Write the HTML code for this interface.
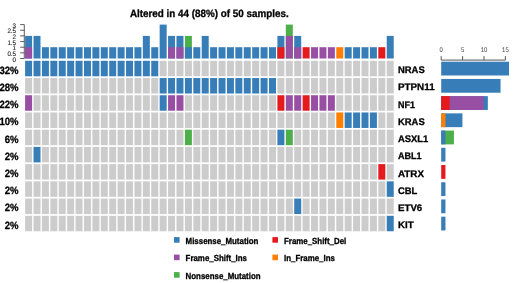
<!DOCTYPE html>
<html><head><meta charset="utf-8"><style>
html,body{margin:0;padding:0;background:#fff;width:520px;height:283px;overflow:hidden}
svg{display:block;font-family:"Liberation Sans",Arial,sans-serif;text-rendering:geometricPrecision}
</style></head><body>
<svg width="520" height="283" viewBox="0 0 520 283">
<rect width="520" height="283" fill="#fff"/><g>
<rect x="25.1" y="60.8" width="7" height="15.5" fill="#377EB8"/>
<rect x="33.51" y="60.8" width="7" height="15.5" fill="#377EB8"/>
<rect x="41.92" y="60.8" width="7" height="15.5" fill="#377EB8"/>
<rect x="50.33" y="60.8" width="7" height="15.5" fill="#377EB8"/>
<rect x="58.74" y="60.8" width="7" height="15.5" fill="#377EB8"/>
<rect x="67.15" y="60.8" width="7" height="15.5" fill="#377EB8"/>
<rect x="75.56" y="60.8" width="7" height="15.5" fill="#377EB8"/>
<rect x="83.97" y="60.8" width="7" height="15.5" fill="#377EB8"/>
<rect x="92.38" y="60.8" width="7" height="15.5" fill="#377EB8"/>
<rect x="100.79" y="60.8" width="7" height="15.5" fill="#377EB8"/>
<rect x="109.2" y="60.8" width="7" height="15.5" fill="#377EB8"/>
<rect x="117.61" y="60.8" width="7" height="15.5" fill="#377EB8"/>
<rect x="126.02" y="60.8" width="7" height="15.5" fill="#377EB8"/>
<rect x="134.43" y="60.8" width="7" height="15.5" fill="#377EB8"/>
<rect x="142.84" y="60.8" width="7" height="15.5" fill="#377EB8"/>
<rect x="151.25" y="60.8" width="7" height="15.5" fill="#377EB8"/>
<rect x="159.66" y="60.8" width="7" height="15.5" fill="#CCCCCC"/>
<rect x="168.07" y="60.8" width="7" height="15.5" fill="#CCCCCC"/>
<rect x="176.48" y="60.8" width="7" height="15.5" fill="#CCCCCC"/>
<rect x="184.89" y="60.8" width="7" height="15.5" fill="#CCCCCC"/>
<rect x="193.3" y="60.8" width="7" height="15.5" fill="#CCCCCC"/>
<rect x="201.71" y="60.8" width="7" height="15.5" fill="#CCCCCC"/>
<rect x="210.12" y="60.8" width="7" height="15.5" fill="#CCCCCC"/>
<rect x="218.53" y="60.8" width="7" height="15.5" fill="#CCCCCC"/>
<rect x="226.94" y="60.8" width="7" height="15.5" fill="#CCCCCC"/>
<rect x="235.35" y="60.8" width="7" height="15.5" fill="#CCCCCC"/>
<rect x="243.76" y="60.8" width="7" height="15.5" fill="#CCCCCC"/>
<rect x="252.17" y="60.8" width="7" height="15.5" fill="#CCCCCC"/>
<rect x="260.58" y="60.8" width="7" height="15.5" fill="#CCCCCC"/>
<rect x="268.99" y="60.8" width="7" height="15.5" fill="#CCCCCC"/>
<rect x="277.4" y="60.8" width="7" height="15.5" fill="#CCCCCC"/>
<rect x="285.81" y="60.8" width="7" height="15.5" fill="#CCCCCC"/>
<rect x="294.22" y="60.8" width="7" height="15.5" fill="#CCCCCC"/>
<rect x="302.63" y="60.8" width="7" height="15.5" fill="#CCCCCC"/>
<rect x="311.04" y="60.8" width="7" height="15.5" fill="#CCCCCC"/>
<rect x="319.45" y="60.8" width="7" height="15.5" fill="#CCCCCC"/>
<rect x="327.86" y="60.8" width="7" height="15.5" fill="#CCCCCC"/>
<rect x="336.27" y="60.8" width="7" height="15.5" fill="#CCCCCC"/>
<rect x="344.68" y="60.8" width="7" height="15.5" fill="#CCCCCC"/>
<rect x="353.09" y="60.8" width="7" height="15.5" fill="#CCCCCC"/>
<rect x="361.5" y="60.8" width="7" height="15.5" fill="#CCCCCC"/>
<rect x="369.91" y="60.8" width="7" height="15.5" fill="#CCCCCC"/>
<rect x="378.32" y="60.8" width="7" height="15.5" fill="#CCCCCC"/>
<rect x="386.73" y="60.8" width="7" height="15.5" fill="#CCCCCC"/>
<rect x="25.1" y="78.02" width="7" height="15.5" fill="#CCCCCC"/>
<rect x="33.51" y="78.02" width="7" height="15.5" fill="#CCCCCC"/>
<rect x="41.92" y="78.02" width="7" height="15.5" fill="#CCCCCC"/>
<rect x="50.33" y="78.02" width="7" height="15.5" fill="#CCCCCC"/>
<rect x="58.74" y="78.02" width="7" height="15.5" fill="#CCCCCC"/>
<rect x="67.15" y="78.02" width="7" height="15.5" fill="#CCCCCC"/>
<rect x="75.56" y="78.02" width="7" height="15.5" fill="#CCCCCC"/>
<rect x="83.97" y="78.02" width="7" height="15.5" fill="#CCCCCC"/>
<rect x="92.38" y="78.02" width="7" height="15.5" fill="#CCCCCC"/>
<rect x="100.79" y="78.02" width="7" height="15.5" fill="#CCCCCC"/>
<rect x="109.2" y="78.02" width="7" height="15.5" fill="#CCCCCC"/>
<rect x="117.61" y="78.02" width="7" height="15.5" fill="#CCCCCC"/>
<rect x="126.02" y="78.02" width="7" height="15.5" fill="#CCCCCC"/>
<rect x="134.43" y="78.02" width="7" height="15.5" fill="#CCCCCC"/>
<rect x="142.84" y="78.02" width="7" height="15.5" fill="#CCCCCC"/>
<rect x="151.25" y="78.02" width="7" height="15.5" fill="#CCCCCC"/>
<rect x="159.66" y="78.02" width="7" height="15.5" fill="#377EB8"/>
<rect x="168.07" y="78.02" width="7" height="15.5" fill="#377EB8"/>
<rect x="176.48" y="78.02" width="7" height="15.5" fill="#377EB8"/>
<rect x="184.89" y="78.02" width="7" height="15.5" fill="#377EB8"/>
<rect x="193.3" y="78.02" width="7" height="15.5" fill="#377EB8"/>
<rect x="201.71" y="78.02" width="7" height="15.5" fill="#377EB8"/>
<rect x="210.12" y="78.02" width="7" height="15.5" fill="#377EB8"/>
<rect x="218.53" y="78.02" width="7" height="15.5" fill="#377EB8"/>
<rect x="226.94" y="78.02" width="7" height="15.5" fill="#377EB8"/>
<rect x="235.35" y="78.02" width="7" height="15.5" fill="#377EB8"/>
<rect x="243.76" y="78.02" width="7" height="15.5" fill="#377EB8"/>
<rect x="252.17" y="78.02" width="7" height="15.5" fill="#377EB8"/>
<rect x="260.58" y="78.02" width="7" height="15.5" fill="#377EB8"/>
<rect x="268.99" y="78.02" width="7" height="15.5" fill="#377EB8"/>
<rect x="277.4" y="78.02" width="7" height="15.5" fill="#CCCCCC"/>
<rect x="285.81" y="78.02" width="7" height="15.5" fill="#CCCCCC"/>
<rect x="294.22" y="78.02" width="7" height="15.5" fill="#CCCCCC"/>
<rect x="302.63" y="78.02" width="7" height="15.5" fill="#CCCCCC"/>
<rect x="311.04" y="78.02" width="7" height="15.5" fill="#CCCCCC"/>
<rect x="319.45" y="78.02" width="7" height="15.5" fill="#CCCCCC"/>
<rect x="327.86" y="78.02" width="7" height="15.5" fill="#CCCCCC"/>
<rect x="336.27" y="78.02" width="7" height="15.5" fill="#CCCCCC"/>
<rect x="344.68" y="78.02" width="7" height="15.5" fill="#CCCCCC"/>
<rect x="353.09" y="78.02" width="7" height="15.5" fill="#CCCCCC"/>
<rect x="361.5" y="78.02" width="7" height="15.5" fill="#CCCCCC"/>
<rect x="369.91" y="78.02" width="7" height="15.5" fill="#CCCCCC"/>
<rect x="378.32" y="78.02" width="7" height="15.5" fill="#CCCCCC"/>
<rect x="386.73" y="78.02" width="7" height="15.5" fill="#CCCCCC"/>
<rect x="25.1" y="95.24" width="7" height="15.5" fill="#984EA3"/>
<rect x="33.51" y="95.24" width="7" height="15.5" fill="#CCCCCC"/>
<rect x="41.92" y="95.24" width="7" height="15.5" fill="#CCCCCC"/>
<rect x="50.33" y="95.24" width="7" height="15.5" fill="#CCCCCC"/>
<rect x="58.74" y="95.24" width="7" height="15.5" fill="#CCCCCC"/>
<rect x="67.15" y="95.24" width="7" height="15.5" fill="#CCCCCC"/>
<rect x="75.56" y="95.24" width="7" height="15.5" fill="#CCCCCC"/>
<rect x="83.97" y="95.24" width="7" height="15.5" fill="#CCCCCC"/>
<rect x="92.38" y="95.24" width="7" height="15.5" fill="#CCCCCC"/>
<rect x="100.79" y="95.24" width="7" height="15.5" fill="#CCCCCC"/>
<rect x="109.2" y="95.24" width="7" height="15.5" fill="#CCCCCC"/>
<rect x="117.61" y="95.24" width="7" height="15.5" fill="#CCCCCC"/>
<rect x="126.02" y="95.24" width="7" height="15.5" fill="#CCCCCC"/>
<rect x="134.43" y="95.24" width="7" height="15.5" fill="#CCCCCC"/>
<rect x="142.84" y="95.24" width="7" height="15.5" fill="#CCCCCC"/>
<rect x="151.25" y="95.24" width="7" height="15.5" fill="#CCCCCC"/>
<rect x="159.66" y="95.24" width="7" height="15.5" fill="#377EB8"/>
<rect x="168.07" y="95.24" width="7" height="15.5" fill="#984EA3"/>
<rect x="176.48" y="95.24" width="7" height="15.5" fill="#984EA3"/>
<rect x="184.89" y="95.24" width="7" height="15.5" fill="#CCCCCC"/>
<rect x="193.3" y="95.24" width="7" height="15.5" fill="#CCCCCC"/>
<rect x="201.71" y="95.24" width="7" height="15.5" fill="#CCCCCC"/>
<rect x="210.12" y="95.24" width="7" height="15.5" fill="#CCCCCC"/>
<rect x="218.53" y="95.24" width="7" height="15.5" fill="#CCCCCC"/>
<rect x="226.94" y="95.24" width="7" height="15.5" fill="#CCCCCC"/>
<rect x="235.35" y="95.24" width="7" height="15.5" fill="#CCCCCC"/>
<rect x="243.76" y="95.24" width="7" height="15.5" fill="#CCCCCC"/>
<rect x="252.17" y="95.24" width="7" height="15.5" fill="#CCCCCC"/>
<rect x="260.58" y="95.24" width="7" height="15.5" fill="#CCCCCC"/>
<rect x="268.99" y="95.24" width="7" height="15.5" fill="#CCCCCC"/>
<rect x="277.4" y="95.24" width="7" height="15.5" fill="#E41A1C"/>
<rect x="285.81" y="95.24" width="7" height="15.5" fill="#984EA3"/>
<rect x="294.22" y="95.24" width="7" height="15.5" fill="#984EA3"/>
<rect x="302.63" y="95.24" width="7" height="15.5" fill="#E41A1C"/>
<rect x="311.04" y="95.24" width="7" height="15.5" fill="#984EA3"/>
<rect x="319.45" y="95.24" width="7" height="15.5" fill="#984EA3"/>
<rect x="327.86" y="95.24" width="7" height="15.5" fill="#984EA3"/>
<rect x="336.27" y="95.24" width="7" height="15.5" fill="#CCCCCC"/>
<rect x="344.68" y="95.24" width="7" height="15.5" fill="#CCCCCC"/>
<rect x="353.09" y="95.24" width="7" height="15.5" fill="#CCCCCC"/>
<rect x="361.5" y="95.24" width="7" height="15.5" fill="#CCCCCC"/>
<rect x="369.91" y="95.24" width="7" height="15.5" fill="#CCCCCC"/>
<rect x="378.32" y="95.24" width="7" height="15.5" fill="#CCCCCC"/>
<rect x="386.73" y="95.24" width="7" height="15.5" fill="#CCCCCC"/>
<rect x="25.1" y="112.46" width="7" height="15.5" fill="#CCCCCC"/>
<rect x="33.51" y="112.46" width="7" height="15.5" fill="#CCCCCC"/>
<rect x="41.92" y="112.46" width="7" height="15.5" fill="#CCCCCC"/>
<rect x="50.33" y="112.46" width="7" height="15.5" fill="#CCCCCC"/>
<rect x="58.74" y="112.46" width="7" height="15.5" fill="#CCCCCC"/>
<rect x="67.15" y="112.46" width="7" height="15.5" fill="#CCCCCC"/>
<rect x="75.56" y="112.46" width="7" height="15.5" fill="#CCCCCC"/>
<rect x="83.97" y="112.46" width="7" height="15.5" fill="#CCCCCC"/>
<rect x="92.38" y="112.46" width="7" height="15.5" fill="#CCCCCC"/>
<rect x="100.79" y="112.46" width="7" height="15.5" fill="#CCCCCC"/>
<rect x="109.2" y="112.46" width="7" height="15.5" fill="#CCCCCC"/>
<rect x="117.61" y="112.46" width="7" height="15.5" fill="#CCCCCC"/>
<rect x="126.02" y="112.46" width="7" height="15.5" fill="#CCCCCC"/>
<rect x="134.43" y="112.46" width="7" height="15.5" fill="#CCCCCC"/>
<rect x="142.84" y="112.46" width="7" height="15.5" fill="#CCCCCC"/>
<rect x="151.25" y="112.46" width="7" height="15.5" fill="#CCCCCC"/>
<rect x="159.66" y="112.46" width="7" height="15.5" fill="#CCCCCC"/>
<rect x="168.07" y="112.46" width="7" height="15.5" fill="#CCCCCC"/>
<rect x="176.48" y="112.46" width="7" height="15.5" fill="#CCCCCC"/>
<rect x="184.89" y="112.46" width="7" height="15.5" fill="#CCCCCC"/>
<rect x="193.3" y="112.46" width="7" height="15.5" fill="#CCCCCC"/>
<rect x="201.71" y="112.46" width="7" height="15.5" fill="#CCCCCC"/>
<rect x="210.12" y="112.46" width="7" height="15.5" fill="#CCCCCC"/>
<rect x="218.53" y="112.46" width="7" height="15.5" fill="#CCCCCC"/>
<rect x="226.94" y="112.46" width="7" height="15.5" fill="#CCCCCC"/>
<rect x="235.35" y="112.46" width="7" height="15.5" fill="#CCCCCC"/>
<rect x="243.76" y="112.46" width="7" height="15.5" fill="#CCCCCC"/>
<rect x="252.17" y="112.46" width="7" height="15.5" fill="#CCCCCC"/>
<rect x="260.58" y="112.46" width="7" height="15.5" fill="#CCCCCC"/>
<rect x="268.99" y="112.46" width="7" height="15.5" fill="#CCCCCC"/>
<rect x="277.4" y="112.46" width="7" height="15.5" fill="#CCCCCC"/>
<rect x="285.81" y="112.46" width="7" height="15.5" fill="#CCCCCC"/>
<rect x="294.22" y="112.46" width="7" height="15.5" fill="#CCCCCC"/>
<rect x="302.63" y="112.46" width="7" height="15.5" fill="#CCCCCC"/>
<rect x="311.04" y="112.46" width="7" height="15.5" fill="#CCCCCC"/>
<rect x="319.45" y="112.46" width="7" height="15.5" fill="#CCCCCC"/>
<rect x="327.86" y="112.46" width="7" height="15.5" fill="#CCCCCC"/>
<rect x="336.27" y="112.46" width="7" height="15.5" fill="#FF7F00"/>
<rect x="344.68" y="112.46" width="7" height="15.5" fill="#377EB8"/>
<rect x="353.09" y="112.46" width="7" height="15.5" fill="#377EB8"/>
<rect x="361.5" y="112.46" width="7" height="15.5" fill="#377EB8"/>
<rect x="369.91" y="112.46" width="7" height="15.5" fill="#377EB8"/>
<rect x="378.32" y="112.46" width="7" height="15.5" fill="#CCCCCC"/>
<rect x="386.73" y="112.46" width="7" height="15.5" fill="#CCCCCC"/>
<rect x="25.1" y="129.68" width="7" height="15.5" fill="#CCCCCC"/>
<rect x="33.51" y="129.68" width="7" height="15.5" fill="#CCCCCC"/>
<rect x="41.92" y="129.68" width="7" height="15.5" fill="#CCCCCC"/>
<rect x="50.33" y="129.68" width="7" height="15.5" fill="#CCCCCC"/>
<rect x="58.74" y="129.68" width="7" height="15.5" fill="#CCCCCC"/>
<rect x="67.15" y="129.68" width="7" height="15.5" fill="#CCCCCC"/>
<rect x="75.56" y="129.68" width="7" height="15.5" fill="#CCCCCC"/>
<rect x="83.97" y="129.68" width="7" height="15.5" fill="#CCCCCC"/>
<rect x="92.38" y="129.68" width="7" height="15.5" fill="#CCCCCC"/>
<rect x="100.79" y="129.68" width="7" height="15.5" fill="#CCCCCC"/>
<rect x="109.2" y="129.68" width="7" height="15.5" fill="#CCCCCC"/>
<rect x="117.61" y="129.68" width="7" height="15.5" fill="#CCCCCC"/>
<rect x="126.02" y="129.68" width="7" height="15.5" fill="#CCCCCC"/>
<rect x="134.43" y="129.68" width="7" height="15.5" fill="#CCCCCC"/>
<rect x="142.84" y="129.68" width="7" height="15.5" fill="#CCCCCC"/>
<rect x="151.25" y="129.68" width="7" height="15.5" fill="#CCCCCC"/>
<rect x="159.66" y="129.68" width="7" height="15.5" fill="#CCCCCC"/>
<rect x="168.07" y="129.68" width="7" height="15.5" fill="#CCCCCC"/>
<rect x="176.48" y="129.68" width="7" height="15.5" fill="#CCCCCC"/>
<rect x="184.89" y="129.68" width="7" height="15.5" fill="#4DAF4A"/>
<rect x="193.3" y="129.68" width="7" height="15.5" fill="#CCCCCC"/>
<rect x="201.71" y="129.68" width="7" height="15.5" fill="#CCCCCC"/>
<rect x="210.12" y="129.68" width="7" height="15.5" fill="#CCCCCC"/>
<rect x="218.53" y="129.68" width="7" height="15.5" fill="#CCCCCC"/>
<rect x="226.94" y="129.68" width="7" height="15.5" fill="#CCCCCC"/>
<rect x="235.35" y="129.68" width="7" height="15.5" fill="#CCCCCC"/>
<rect x="243.76" y="129.68" width="7" height="15.5" fill="#CCCCCC"/>
<rect x="252.17" y="129.68" width="7" height="15.5" fill="#CCCCCC"/>
<rect x="260.58" y="129.68" width="7" height="15.5" fill="#CCCCCC"/>
<rect x="268.99" y="129.68" width="7" height="15.5" fill="#CCCCCC"/>
<rect x="277.4" y="129.68" width="7" height="15.5" fill="#377EB8"/>
<rect x="285.81" y="129.68" width="7" height="15.5" fill="#4DAF4A"/>
<rect x="294.22" y="129.68" width="7" height="15.5" fill="#CCCCCC"/>
<rect x="302.63" y="129.68" width="7" height="15.5" fill="#CCCCCC"/>
<rect x="311.04" y="129.68" width="7" height="15.5" fill="#CCCCCC"/>
<rect x="319.45" y="129.68" width="7" height="15.5" fill="#CCCCCC"/>
<rect x="327.86" y="129.68" width="7" height="15.5" fill="#CCCCCC"/>
<rect x="336.27" y="129.68" width="7" height="15.5" fill="#CCCCCC"/>
<rect x="344.68" y="129.68" width="7" height="15.5" fill="#CCCCCC"/>
<rect x="353.09" y="129.68" width="7" height="15.5" fill="#CCCCCC"/>
<rect x="361.5" y="129.68" width="7" height="15.5" fill="#CCCCCC"/>
<rect x="369.91" y="129.68" width="7" height="15.5" fill="#CCCCCC"/>
<rect x="378.32" y="129.68" width="7" height="15.5" fill="#CCCCCC"/>
<rect x="386.73" y="129.68" width="7" height="15.5" fill="#CCCCCC"/>
<rect x="25.1" y="146.9" width="7" height="15.5" fill="#CCCCCC"/>
<rect x="33.51" y="146.9" width="7" height="15.5" fill="#377EB8"/>
<rect x="41.92" y="146.9" width="7" height="15.5" fill="#CCCCCC"/>
<rect x="50.33" y="146.9" width="7" height="15.5" fill="#CCCCCC"/>
<rect x="58.74" y="146.9" width="7" height="15.5" fill="#CCCCCC"/>
<rect x="67.15" y="146.9" width="7" height="15.5" fill="#CCCCCC"/>
<rect x="75.56" y="146.9" width="7" height="15.5" fill="#CCCCCC"/>
<rect x="83.97" y="146.9" width="7" height="15.5" fill="#CCCCCC"/>
<rect x="92.38" y="146.9" width="7" height="15.5" fill="#CCCCCC"/>
<rect x="100.79" y="146.9" width="7" height="15.5" fill="#CCCCCC"/>
<rect x="109.2" y="146.9" width="7" height="15.5" fill="#CCCCCC"/>
<rect x="117.61" y="146.9" width="7" height="15.5" fill="#CCCCCC"/>
<rect x="126.02" y="146.9" width="7" height="15.5" fill="#CCCCCC"/>
<rect x="134.43" y="146.9" width="7" height="15.5" fill="#CCCCCC"/>
<rect x="142.84" y="146.9" width="7" height="15.5" fill="#CCCCCC"/>
<rect x="151.25" y="146.9" width="7" height="15.5" fill="#CCCCCC"/>
<rect x="159.66" y="146.9" width="7" height="15.5" fill="#CCCCCC"/>
<rect x="168.07" y="146.9" width="7" height="15.5" fill="#CCCCCC"/>
<rect x="176.48" y="146.9" width="7" height="15.5" fill="#CCCCCC"/>
<rect x="184.89" y="146.9" width="7" height="15.5" fill="#CCCCCC"/>
<rect x="193.3" y="146.9" width="7" height="15.5" fill="#CCCCCC"/>
<rect x="201.71" y="146.9" width="7" height="15.5" fill="#CCCCCC"/>
<rect x="210.12" y="146.9" width="7" height="15.5" fill="#CCCCCC"/>
<rect x="218.53" y="146.9" width="7" height="15.5" fill="#CCCCCC"/>
<rect x="226.94" y="146.9" width="7" height="15.5" fill="#CCCCCC"/>
<rect x="235.35" y="146.9" width="7" height="15.5" fill="#CCCCCC"/>
<rect x="243.76" y="146.9" width="7" height="15.5" fill="#CCCCCC"/>
<rect x="252.17" y="146.9" width="7" height="15.5" fill="#CCCCCC"/>
<rect x="260.58" y="146.9" width="7" height="15.5" fill="#CCCCCC"/>
<rect x="268.99" y="146.9" width="7" height="15.5" fill="#CCCCCC"/>
<rect x="277.4" y="146.9" width="7" height="15.5" fill="#CCCCCC"/>
<rect x="285.81" y="146.9" width="7" height="15.5" fill="#CCCCCC"/>
<rect x="294.22" y="146.9" width="7" height="15.5" fill="#CCCCCC"/>
<rect x="302.63" y="146.9" width="7" height="15.5" fill="#CCCCCC"/>
<rect x="311.04" y="146.9" width="7" height="15.5" fill="#CCCCCC"/>
<rect x="319.45" y="146.9" width="7" height="15.5" fill="#CCCCCC"/>
<rect x="327.86" y="146.9" width="7" height="15.5" fill="#CCCCCC"/>
<rect x="336.27" y="146.9" width="7" height="15.5" fill="#CCCCCC"/>
<rect x="344.68" y="146.9" width="7" height="15.5" fill="#CCCCCC"/>
<rect x="353.09" y="146.9" width="7" height="15.5" fill="#CCCCCC"/>
<rect x="361.5" y="146.9" width="7" height="15.5" fill="#CCCCCC"/>
<rect x="369.91" y="146.9" width="7" height="15.5" fill="#CCCCCC"/>
<rect x="378.32" y="146.9" width="7" height="15.5" fill="#CCCCCC"/>
<rect x="386.73" y="146.9" width="7" height="15.5" fill="#CCCCCC"/>
<rect x="25.1" y="164.12" width="7" height="15.5" fill="#CCCCCC"/>
<rect x="33.51" y="164.12" width="7" height="15.5" fill="#CCCCCC"/>
<rect x="41.92" y="164.12" width="7" height="15.5" fill="#CCCCCC"/>
<rect x="50.33" y="164.12" width="7" height="15.5" fill="#CCCCCC"/>
<rect x="58.74" y="164.12" width="7" height="15.5" fill="#CCCCCC"/>
<rect x="67.15" y="164.12" width="7" height="15.5" fill="#CCCCCC"/>
<rect x="75.56" y="164.12" width="7" height="15.5" fill="#CCCCCC"/>
<rect x="83.97" y="164.12" width="7" height="15.5" fill="#CCCCCC"/>
<rect x="92.38" y="164.12" width="7" height="15.5" fill="#CCCCCC"/>
<rect x="100.79" y="164.12" width="7" height="15.5" fill="#CCCCCC"/>
<rect x="109.2" y="164.12" width="7" height="15.5" fill="#CCCCCC"/>
<rect x="117.61" y="164.12" width="7" height="15.5" fill="#CCCCCC"/>
<rect x="126.02" y="164.12" width="7" height="15.5" fill="#CCCCCC"/>
<rect x="134.43" y="164.12" width="7" height="15.5" fill="#CCCCCC"/>
<rect x="142.84" y="164.12" width="7" height="15.5" fill="#CCCCCC"/>
<rect x="151.25" y="164.12" width="7" height="15.5" fill="#CCCCCC"/>
<rect x="159.66" y="164.12" width="7" height="15.5" fill="#CCCCCC"/>
<rect x="168.07" y="164.12" width="7" height="15.5" fill="#CCCCCC"/>
<rect x="176.48" y="164.12" width="7" height="15.5" fill="#CCCCCC"/>
<rect x="184.89" y="164.12" width="7" height="15.5" fill="#CCCCCC"/>
<rect x="193.3" y="164.12" width="7" height="15.5" fill="#CCCCCC"/>
<rect x="201.71" y="164.12" width="7" height="15.5" fill="#CCCCCC"/>
<rect x="210.12" y="164.12" width="7" height="15.5" fill="#CCCCCC"/>
<rect x="218.53" y="164.12" width="7" height="15.5" fill="#CCCCCC"/>
<rect x="226.94" y="164.12" width="7" height="15.5" fill="#CCCCCC"/>
<rect x="235.35" y="164.12" width="7" height="15.5" fill="#CCCCCC"/>
<rect x="243.76" y="164.12" width="7" height="15.5" fill="#CCCCCC"/>
<rect x="252.17" y="164.12" width="7" height="15.5" fill="#CCCCCC"/>
<rect x="260.58" y="164.12" width="7" height="15.5" fill="#CCCCCC"/>
<rect x="268.99" y="164.12" width="7" height="15.5" fill="#CCCCCC"/>
<rect x="277.4" y="164.12" width="7" height="15.5" fill="#CCCCCC"/>
<rect x="285.81" y="164.12" width="7" height="15.5" fill="#CCCCCC"/>
<rect x="294.22" y="164.12" width="7" height="15.5" fill="#CCCCCC"/>
<rect x="302.63" y="164.12" width="7" height="15.5" fill="#CCCCCC"/>
<rect x="311.04" y="164.12" width="7" height="15.5" fill="#CCCCCC"/>
<rect x="319.45" y="164.12" width="7" height="15.5" fill="#CCCCCC"/>
<rect x="327.86" y="164.12" width="7" height="15.5" fill="#CCCCCC"/>
<rect x="336.27" y="164.12" width="7" height="15.5" fill="#CCCCCC"/>
<rect x="344.68" y="164.12" width="7" height="15.5" fill="#CCCCCC"/>
<rect x="353.09" y="164.12" width="7" height="15.5" fill="#CCCCCC"/>
<rect x="361.5" y="164.12" width="7" height="15.5" fill="#CCCCCC"/>
<rect x="369.91" y="164.12" width="7" height="15.5" fill="#CCCCCC"/>
<rect x="378.32" y="164.12" width="7" height="15.5" fill="#E41A1C"/>
<rect x="386.73" y="164.12" width="7" height="15.5" fill="#CCCCCC"/>
<rect x="25.1" y="181.34" width="7" height="15.5" fill="#CCCCCC"/>
<rect x="33.51" y="181.34" width="7" height="15.5" fill="#CCCCCC"/>
<rect x="41.92" y="181.34" width="7" height="15.5" fill="#CCCCCC"/>
<rect x="50.33" y="181.34" width="7" height="15.5" fill="#CCCCCC"/>
<rect x="58.74" y="181.34" width="7" height="15.5" fill="#CCCCCC"/>
<rect x="67.15" y="181.34" width="7" height="15.5" fill="#CCCCCC"/>
<rect x="75.56" y="181.34" width="7" height="15.5" fill="#CCCCCC"/>
<rect x="83.97" y="181.34" width="7" height="15.5" fill="#CCCCCC"/>
<rect x="92.38" y="181.34" width="7" height="15.5" fill="#CCCCCC"/>
<rect x="100.79" y="181.34" width="7" height="15.5" fill="#CCCCCC"/>
<rect x="109.2" y="181.34" width="7" height="15.5" fill="#CCCCCC"/>
<rect x="117.61" y="181.34" width="7" height="15.5" fill="#CCCCCC"/>
<rect x="126.02" y="181.34" width="7" height="15.5" fill="#CCCCCC"/>
<rect x="134.43" y="181.34" width="7" height="15.5" fill="#CCCCCC"/>
<rect x="142.84" y="181.34" width="7" height="15.5" fill="#CCCCCC"/>
<rect x="151.25" y="181.34" width="7" height="15.5" fill="#CCCCCC"/>
<rect x="159.66" y="181.34" width="7" height="15.5" fill="#CCCCCC"/>
<rect x="168.07" y="181.34" width="7" height="15.5" fill="#CCCCCC"/>
<rect x="176.48" y="181.34" width="7" height="15.5" fill="#CCCCCC"/>
<rect x="184.89" y="181.34" width="7" height="15.5" fill="#CCCCCC"/>
<rect x="193.3" y="181.34" width="7" height="15.5" fill="#CCCCCC"/>
<rect x="201.71" y="181.34" width="7" height="15.5" fill="#CCCCCC"/>
<rect x="210.12" y="181.34" width="7" height="15.5" fill="#CCCCCC"/>
<rect x="218.53" y="181.34" width="7" height="15.5" fill="#CCCCCC"/>
<rect x="226.94" y="181.34" width="7" height="15.5" fill="#CCCCCC"/>
<rect x="235.35" y="181.34" width="7" height="15.5" fill="#CCCCCC"/>
<rect x="243.76" y="181.34" width="7" height="15.5" fill="#CCCCCC"/>
<rect x="252.17" y="181.34" width="7" height="15.5" fill="#CCCCCC"/>
<rect x="260.58" y="181.34" width="7" height="15.5" fill="#CCCCCC"/>
<rect x="268.99" y="181.34" width="7" height="15.5" fill="#CCCCCC"/>
<rect x="277.4" y="181.34" width="7" height="15.5" fill="#CCCCCC"/>
<rect x="285.81" y="181.34" width="7" height="15.5" fill="#CCCCCC"/>
<rect x="294.22" y="181.34" width="7" height="15.5" fill="#CCCCCC"/>
<rect x="302.63" y="181.34" width="7" height="15.5" fill="#CCCCCC"/>
<rect x="311.04" y="181.34" width="7" height="15.5" fill="#CCCCCC"/>
<rect x="319.45" y="181.34" width="7" height="15.5" fill="#CCCCCC"/>
<rect x="327.86" y="181.34" width="7" height="15.5" fill="#CCCCCC"/>
<rect x="336.27" y="181.34" width="7" height="15.5" fill="#CCCCCC"/>
<rect x="344.68" y="181.34" width="7" height="15.5" fill="#CCCCCC"/>
<rect x="353.09" y="181.34" width="7" height="15.5" fill="#CCCCCC"/>
<rect x="361.5" y="181.34" width="7" height="15.5" fill="#CCCCCC"/>
<rect x="369.91" y="181.34" width="7" height="15.5" fill="#CCCCCC"/>
<rect x="378.32" y="181.34" width="7" height="15.5" fill="#CCCCCC"/>
<rect x="386.73" y="181.34" width="7" height="15.5" fill="#377EB8"/>
<rect x="25.1" y="198.56" width="7" height="15.5" fill="#CCCCCC"/>
<rect x="33.51" y="198.56" width="7" height="15.5" fill="#CCCCCC"/>
<rect x="41.92" y="198.56" width="7" height="15.5" fill="#CCCCCC"/>
<rect x="50.33" y="198.56" width="7" height="15.5" fill="#CCCCCC"/>
<rect x="58.74" y="198.56" width="7" height="15.5" fill="#CCCCCC"/>
<rect x="67.15" y="198.56" width="7" height="15.5" fill="#CCCCCC"/>
<rect x="75.56" y="198.56" width="7" height="15.5" fill="#CCCCCC"/>
<rect x="83.97" y="198.56" width="7" height="15.5" fill="#CCCCCC"/>
<rect x="92.38" y="198.56" width="7" height="15.5" fill="#CCCCCC"/>
<rect x="100.79" y="198.56" width="7" height="15.5" fill="#CCCCCC"/>
<rect x="109.2" y="198.56" width="7" height="15.5" fill="#CCCCCC"/>
<rect x="117.61" y="198.56" width="7" height="15.5" fill="#CCCCCC"/>
<rect x="126.02" y="198.56" width="7" height="15.5" fill="#CCCCCC"/>
<rect x="134.43" y="198.56" width="7" height="15.5" fill="#CCCCCC"/>
<rect x="142.84" y="198.56" width="7" height="15.5" fill="#CCCCCC"/>
<rect x="151.25" y="198.56" width="7" height="15.5" fill="#CCCCCC"/>
<rect x="159.66" y="198.56" width="7" height="15.5" fill="#CCCCCC"/>
<rect x="168.07" y="198.56" width="7" height="15.5" fill="#CCCCCC"/>
<rect x="176.48" y="198.56" width="7" height="15.5" fill="#CCCCCC"/>
<rect x="184.89" y="198.56" width="7" height="15.5" fill="#CCCCCC"/>
<rect x="193.3" y="198.56" width="7" height="15.5" fill="#CCCCCC"/>
<rect x="201.71" y="198.56" width="7" height="15.5" fill="#CCCCCC"/>
<rect x="210.12" y="198.56" width="7" height="15.5" fill="#CCCCCC"/>
<rect x="218.53" y="198.56" width="7" height="15.5" fill="#CCCCCC"/>
<rect x="226.94" y="198.56" width="7" height="15.5" fill="#CCCCCC"/>
<rect x="235.35" y="198.56" width="7" height="15.5" fill="#CCCCCC"/>
<rect x="243.76" y="198.56" width="7" height="15.5" fill="#CCCCCC"/>
<rect x="252.17" y="198.56" width="7" height="15.5" fill="#CCCCCC"/>
<rect x="260.58" y="198.56" width="7" height="15.5" fill="#CCCCCC"/>
<rect x="268.99" y="198.56" width="7" height="15.5" fill="#CCCCCC"/>
<rect x="277.4" y="198.56" width="7" height="15.5" fill="#CCCCCC"/>
<rect x="285.81" y="198.56" width="7" height="15.5" fill="#CCCCCC"/>
<rect x="294.22" y="198.56" width="7" height="15.5" fill="#377EB8"/>
<rect x="302.63" y="198.56" width="7" height="15.5" fill="#CCCCCC"/>
<rect x="311.04" y="198.56" width="7" height="15.5" fill="#CCCCCC"/>
<rect x="319.45" y="198.56" width="7" height="15.5" fill="#CCCCCC"/>
<rect x="327.86" y="198.56" width="7" height="15.5" fill="#CCCCCC"/>
<rect x="336.27" y="198.56" width="7" height="15.5" fill="#CCCCCC"/>
<rect x="344.68" y="198.56" width="7" height="15.5" fill="#CCCCCC"/>
<rect x="353.09" y="198.56" width="7" height="15.5" fill="#CCCCCC"/>
<rect x="361.5" y="198.56" width="7" height="15.5" fill="#CCCCCC"/>
<rect x="369.91" y="198.56" width="7" height="15.5" fill="#CCCCCC"/>
<rect x="378.32" y="198.56" width="7" height="15.5" fill="#CCCCCC"/>
<rect x="386.73" y="198.56" width="7" height="15.5" fill="#CCCCCC"/>
<rect x="25.1" y="215.78" width="7" height="15.5" fill="#CCCCCC"/>
<rect x="33.51" y="215.78" width="7" height="15.5" fill="#CCCCCC"/>
<rect x="41.92" y="215.78" width="7" height="15.5" fill="#CCCCCC"/>
<rect x="50.33" y="215.78" width="7" height="15.5" fill="#CCCCCC"/>
<rect x="58.74" y="215.78" width="7" height="15.5" fill="#CCCCCC"/>
<rect x="67.15" y="215.78" width="7" height="15.5" fill="#CCCCCC"/>
<rect x="75.56" y="215.78" width="7" height="15.5" fill="#CCCCCC"/>
<rect x="83.97" y="215.78" width="7" height="15.5" fill="#CCCCCC"/>
<rect x="92.38" y="215.78" width="7" height="15.5" fill="#CCCCCC"/>
<rect x="100.79" y="215.78" width="7" height="15.5" fill="#CCCCCC"/>
<rect x="109.2" y="215.78" width="7" height="15.5" fill="#CCCCCC"/>
<rect x="117.61" y="215.78" width="7" height="15.5" fill="#CCCCCC"/>
<rect x="126.02" y="215.78" width="7" height="15.5" fill="#CCCCCC"/>
<rect x="134.43" y="215.78" width="7" height="15.5" fill="#CCCCCC"/>
<rect x="142.84" y="215.78" width="7" height="15.5" fill="#CCCCCC"/>
<rect x="151.25" y="215.78" width="7" height="15.5" fill="#CCCCCC"/>
<rect x="159.66" y="215.78" width="7" height="15.5" fill="#CCCCCC"/>
<rect x="168.07" y="215.78" width="7" height="15.5" fill="#CCCCCC"/>
<rect x="176.48" y="215.78" width="7" height="15.5" fill="#CCCCCC"/>
<rect x="184.89" y="215.78" width="7" height="15.5" fill="#CCCCCC"/>
<rect x="193.3" y="215.78" width="7" height="15.5" fill="#CCCCCC"/>
<rect x="201.71" y="215.78" width="7" height="15.5" fill="#CCCCCC"/>
<rect x="210.12" y="215.78" width="7" height="15.5" fill="#CCCCCC"/>
<rect x="218.53" y="215.78" width="7" height="15.5" fill="#CCCCCC"/>
<rect x="226.94" y="215.78" width="7" height="15.5" fill="#CCCCCC"/>
<rect x="235.35" y="215.78" width="7" height="15.5" fill="#CCCCCC"/>
<rect x="243.76" y="215.78" width="7" height="15.5" fill="#CCCCCC"/>
<rect x="252.17" y="215.78" width="7" height="15.5" fill="#CCCCCC"/>
<rect x="260.58" y="215.78" width="7" height="15.5" fill="#CCCCCC"/>
<rect x="268.99" y="215.78" width="7" height="15.5" fill="#CCCCCC"/>
<rect x="277.4" y="215.78" width="7" height="15.5" fill="#CCCCCC"/>
<rect x="285.81" y="215.78" width="7" height="15.5" fill="#CCCCCC"/>
<rect x="294.22" y="215.78" width="7" height="15.5" fill="#CCCCCC"/>
<rect x="302.63" y="215.78" width="7" height="15.5" fill="#CCCCCC"/>
<rect x="311.04" y="215.78" width="7" height="15.5" fill="#CCCCCC"/>
<rect x="319.45" y="215.78" width="7" height="15.5" fill="#CCCCCC"/>
<rect x="327.86" y="215.78" width="7" height="15.5" fill="#CCCCCC"/>
<rect x="336.27" y="215.78" width="7" height="15.5" fill="#CCCCCC"/>
<rect x="344.68" y="215.78" width="7" height="15.5" fill="#CCCCCC"/>
<rect x="353.09" y="215.78" width="7" height="15.5" fill="#CCCCCC"/>
<rect x="361.5" y="215.78" width="7" height="15.5" fill="#CCCCCC"/>
<rect x="369.91" y="215.78" width="7" height="15.5" fill="#CCCCCC"/>
<rect x="378.32" y="215.78" width="7" height="15.5" fill="#CCCCCC"/>
<rect x="386.73" y="215.78" width="7" height="15.5" fill="#377EB8"/>
<rect x="25.1" y="35.9" width="7" height="22.6" fill="#377EB8"/>
<rect x="25.1" y="47.2" width="7" height="11.3" fill="#984EA3"/>
<rect x="33.51" y="35.9" width="7" height="22.6" fill="#377EB8"/>
<rect x="41.92" y="47.2" width="7" height="11.3" fill="#377EB8"/>
<rect x="50.33" y="47.2" width="7" height="11.3" fill="#377EB8"/>
<rect x="58.74" y="47.2" width="7" height="11.3" fill="#377EB8"/>
<rect x="67.15" y="47.2" width="7" height="11.3" fill="#377EB8"/>
<rect x="75.56" y="47.2" width="7" height="11.3" fill="#377EB8"/>
<rect x="83.97" y="47.2" width="7" height="11.3" fill="#377EB8"/>
<rect x="92.38" y="47.2" width="7" height="11.3" fill="#377EB8"/>
<rect x="100.79" y="47.2" width="7" height="11.3" fill="#377EB8"/>
<rect x="109.2" y="47.2" width="7" height="11.3" fill="#377EB8"/>
<rect x="117.61" y="47.2" width="7" height="11.3" fill="#377EB8"/>
<rect x="126.02" y="47.2" width="7" height="11.3" fill="#377EB8"/>
<rect x="134.43" y="47.2" width="7" height="11.3" fill="#377EB8"/>
<rect x="142.84" y="35.9" width="7" height="22.6" fill="#377EB8"/>
<rect x="151.25" y="47.2" width="7" height="11.3" fill="#377EB8"/>
<rect x="159.66" y="24.6" width="7" height="33.9" fill="#377EB8"/>
<rect x="168.07" y="35.9" width="7" height="22.6" fill="#377EB8"/>
<rect x="168.07" y="47.2" width="7" height="11.3" fill="#984EA3"/>
<rect x="176.48" y="35.9" width="7" height="22.6" fill="#377EB8"/>
<rect x="176.48" y="47.2" width="7" height="11.3" fill="#984EA3"/>
<rect x="184.89" y="35.9" width="7" height="22.6" fill="#4DAF4A"/>
<rect x="184.89" y="47.2" width="7" height="11.3" fill="#377EB8"/>
<rect x="193.3" y="47.2" width="7" height="11.3" fill="#377EB8"/>
<rect x="201.71" y="35.9" width="7" height="22.6" fill="#377EB8"/>
<rect x="210.12" y="47.2" width="7" height="11.3" fill="#377EB8"/>
<rect x="218.53" y="47.2" width="7" height="11.3" fill="#377EB8"/>
<rect x="226.94" y="47.2" width="7" height="11.3" fill="#377EB8"/>
<rect x="235.35" y="47.2" width="7" height="11.3" fill="#377EB8"/>
<rect x="243.76" y="47.2" width="7" height="11.3" fill="#377EB8"/>
<rect x="252.17" y="47.2" width="7" height="11.3" fill="#377EB8"/>
<rect x="260.58" y="47.2" width="7" height="11.3" fill="#377EB8"/>
<rect x="268.99" y="47.2" width="7" height="11.3" fill="#377EB8"/>
<rect x="277.4" y="35.9" width="7" height="22.6" fill="#377EB8"/>
<rect x="277.4" y="47.2" width="7" height="11.3" fill="#E41A1C"/>
<rect x="285.81" y="24.6" width="7" height="33.9" fill="#4DAF4A"/>
<rect x="285.81" y="35.9" width="7" height="22.6" fill="#984EA3"/>
<rect x="294.22" y="35.9" width="7" height="22.6" fill="#377EB8"/>
<rect x="294.22" y="47.2" width="7" height="11.3" fill="#984EA3"/>
<rect x="302.63" y="47.2" width="7" height="11.3" fill="#E41A1C"/>
<rect x="311.04" y="47.2" width="7" height="11.3" fill="#984EA3"/>
<rect x="319.45" y="47.2" width="7" height="11.3" fill="#984EA3"/>
<rect x="327.86" y="47.2" width="7" height="11.3" fill="#984EA3"/>
<rect x="336.27" y="47.2" width="7" height="11.3" fill="#FF7F00"/>
<rect x="344.68" y="47.2" width="7" height="11.3" fill="#377EB8"/>
<rect x="353.09" y="47.2" width="7" height="11.3" fill="#377EB8"/>
<rect x="361.5" y="47.2" width="7" height="11.3" fill="#377EB8"/>
<rect x="369.91" y="47.2" width="7" height="11.3" fill="#377EB8"/>
<rect x="378.32" y="47.2" width="7" height="11.3" fill="#E41A1C"/>
<rect x="386.73" y="35.9" width="7" height="22.6" fill="#377EB8"/>
<g stroke="#333" stroke-width="0.8" fill="none"><path d="M24.3 58.5V24.6"/>
<path d="M20.2 58.5H24.3"/>
<path d="M20.2 52.85H24.3"/>
<path d="M20.2 47.2H24.3"/>
<path d="M20.2 41.55H24.3"/>
<path d="M20.2 35.9H24.3"/>
<path d="M20.2 30.25H24.3"/>
<path d="M20.2 24.6H24.3"/>
</g>
<text transform="translate(16.1 61.6) scale(0.95 1)" text-anchor="end" font-size="6.6" stroke="#222" stroke-width="0.12" fill="#222">0</text>
<text transform="translate(16.1 55.95) scale(0.95 1)" text-anchor="end" font-size="6.6" stroke="#222" stroke-width="0.12" fill="#222">0.5</text>
<text transform="translate(16.1 50.3) scale(0.95 1)" text-anchor="end" font-size="6.6" stroke="#222" stroke-width="0.12" fill="#222">1</text>
<text transform="translate(16.1 44.65) scale(0.95 1)" text-anchor="end" font-size="6.6" stroke="#222" stroke-width="0.12" fill="#222">1.5</text>
<text transform="translate(16.1 39) scale(0.95 1)" text-anchor="end" font-size="6.6" stroke="#222" stroke-width="0.12" fill="#222">2</text>
<text transform="translate(16.1 33.35) scale(0.95 1)" text-anchor="end" font-size="6.6" stroke="#222" stroke-width="0.12" fill="#222">2.5</text>
<text transform="translate(16.1 27.7) scale(0.95 1)" text-anchor="end" font-size="6.6" stroke="#222" stroke-width="0.12" fill="#222">3</text>
<rect x="441.2" y="61.7" width="67.84" height="13.8" fill="#377EB8"/>
<rect x="441.2" y="78.92" width="59.36" height="13.8" fill="#377EB8"/>
<rect x="441.2" y="96.14" width="46.64" height="13.8" fill="#377EB8"/>
<rect x="441.2" y="96.14" width="42.4" height="13.8" fill="#984EA3"/>
<rect x="441.2" y="96.14" width="8.48" height="13.8" fill="#E41A1C"/>
<rect x="441.2" y="113.36" width="21.2" height="13.8" fill="#377EB8"/>
<rect x="441.2" y="113.36" width="4.24" height="13.8" fill="#FF7F00"/>
<rect x="441.2" y="130.58" width="12.72" height="13.8" fill="#4DAF4A"/>
<rect x="441.2" y="130.58" width="4.24" height="13.8" fill="#377EB8"/>
<rect x="441.2" y="147.8" width="4.24" height="13.8" fill="#377EB8"/>
<rect x="441.2" y="165.02" width="4.24" height="13.8" fill="#E41A1C"/>
<rect x="441.2" y="182.24" width="4.24" height="13.8" fill="#377EB8"/>
<rect x="441.2" y="199.46" width="4.24" height="13.8" fill="#377EB8"/>
<rect x="441.2" y="216.68" width="4.24" height="13.8" fill="#377EB8"/>
<g stroke="#444" stroke-width="0.9" fill="none"><path d="M441.2 60.1H505.4"/>
<path d="M441.2 60.1V56.1"/>
<path d="M462.6 60.1V56.1"/>
<path d="M484 60.1V56.1"/>
<path d="M505.4 60.1V56.1"/>
</g>
<text transform="translate(441.2 51.5) scale(0.88 1)" text-anchor="middle" font-size="6.8" stroke="#555" stroke-width="0.05" fill="#555">0</text>
<text transform="translate(462.6 51.5) scale(0.88 1)" text-anchor="middle" font-size="6.8" stroke="#555" stroke-width="0.05" fill="#555">5</text>
<text transform="translate(484 51.5) scale(0.88 1)" text-anchor="middle" font-size="6.8" stroke="#555" stroke-width="0.05" fill="#555">10</text>
<text transform="translate(505.4 51.5) scale(0.88 1)" text-anchor="middle" font-size="6.8" stroke="#555" stroke-width="0.05" fill="#555">15</text>
<text transform="translate(398 73.2) scale(0.99 1)" font-size="9.5" font-weight="bold" stroke="#000" stroke-width="0.3" fill="#000">NRAS</text>
<text transform="translate(18.6 73.7) scale(0.9 1)" text-anchor="end" font-size="10.6" font-weight="bold" stroke="#000" stroke-width="0.3" fill="#000">32%</text>
<text transform="translate(398 90.42) scale(1.035 1)" font-size="9.5" font-weight="bold" stroke="#000" stroke-width="0.3" fill="#000">PTPN11</text>
<text transform="translate(18.6 90.92) scale(0.9 1)" text-anchor="end" font-size="10.6" font-weight="bold" stroke="#000" stroke-width="0.3" fill="#000">28%</text>
<text transform="translate(398 107.64) scale(0.941 1)" font-size="9.5" font-weight="bold" stroke="#000" stroke-width="0.3" fill="#000">NF1</text>
<text transform="translate(18.6 108.14) scale(0.9 1)" text-anchor="end" font-size="10.6" font-weight="bold" stroke="#000" stroke-width="0.3" fill="#000">22%</text>
<text transform="translate(398 124.86) scale(0.99 1)" font-size="9.5" font-weight="bold" stroke="#000" stroke-width="0.3" fill="#000">KRAS</text>
<text transform="translate(18.6 125.36) scale(0.9 1)" text-anchor="end" font-size="10.6" font-weight="bold" stroke="#000" stroke-width="0.3" fill="#000">10%</text>
<text transform="translate(398 142.08) scale(0.99 1)" font-size="9.5" font-weight="bold" stroke="#000" stroke-width="0.3" fill="#000">ASXL1</text>
<text transform="translate(18.6 142.58) scale(0.9 1)" text-anchor="end" font-size="10.6" font-weight="bold" stroke="#000" stroke-width="0.3" fill="#000">6%</text>
<text transform="translate(398 159.3) scale(0.95 1)" font-size="9.5" font-weight="bold" stroke="#000" stroke-width="0.3" fill="#000">ABL1</text>
<text transform="translate(18.6 159.8) scale(0.9 1)" text-anchor="end" font-size="10.6" font-weight="bold" stroke="#000" stroke-width="0.3" fill="#000">2%</text>
<text transform="translate(398 176.52) scale(1.03 1)" font-size="9.5" font-weight="bold" stroke="#000" stroke-width="0.3" fill="#000">ATRX</text>
<text transform="translate(18.6 177.02) scale(0.9 1)" text-anchor="end" font-size="10.6" font-weight="bold" stroke="#000" stroke-width="0.3" fill="#000">2%</text>
<text transform="translate(398 193.74) scale(0.99 1)" font-size="9.5" font-weight="bold" stroke="#000" stroke-width="0.3" fill="#000">CBL</text>
<text transform="translate(18.6 194.24) scale(0.9 1)" text-anchor="end" font-size="10.6" font-weight="bold" stroke="#000" stroke-width="0.3" fill="#000">2%</text>
<text transform="translate(398 210.96) scale(1.02 1)" font-size="9.5" font-weight="bold" stroke="#000" stroke-width="0.3" fill="#000">ETV6</text>
<text transform="translate(18.6 211.46) scale(0.9 1)" text-anchor="end" font-size="10.6" font-weight="bold" stroke="#000" stroke-width="0.3" fill="#000">2%</text>
<text transform="translate(398 228.18) scale(1.02 1)" font-size="9.5" font-weight="bold" stroke="#000" stroke-width="0.3" fill="#000">KIT</text>
<text transform="translate(18.6 228.68) scale(0.9 1)" text-anchor="end" font-size="10.6" font-weight="bold" stroke="#000" stroke-width="0.3" fill="#000">2%</text>
<text transform="translate(209.3 16.8) scale(0.93 1)" text-anchor="middle" font-size="10.6" font-weight="bold" stroke="#000" stroke-width="0.3" fill="#000">Altered in 44 (88%) of 50 samples.</text>
<rect x="174" y="237.1" width="5.6" height="5.6" fill="#377EB8"/>
<text transform="translate(185.6 244.1) scale(0.8963 1)" font-size="8.8" font-weight="bold" stroke="#000" stroke-width="0.3" fill="#000">Missense_Mutation</text>
<rect x="272.4" y="237.1" width="5.6" height="5.6" fill="#E41A1C"/>
<text transform="translate(284 244.1) scale(0.8963 1)" font-size="8.8" font-weight="bold" stroke="#000" stroke-width="0.3" fill="#000">Frame_Shift_Del</text>
<rect x="174" y="254.6" width="5.6" height="5.6" fill="#984EA3"/>
<text transform="translate(185.6 261.2) scale(0.8963 1)" font-size="8.8" font-weight="bold" stroke="#000" stroke-width="0.3" fill="#000">Frame_Shift_Ins</text>
<rect x="272.4" y="254.6" width="5.6" height="5.6" fill="#FF7F00"/>
<text transform="translate(284 261.2) scale(0.8963 1)" font-size="8.8" font-weight="bold" stroke="#000" stroke-width="0.3" fill="#000">In_Frame_Ins</text>
<rect x="174" y="272.1" width="5.6" height="5.6" fill="#4DAF4A"/>
<text transform="translate(185.6 279.1) scale(0.8963 1)" font-size="8.8" font-weight="bold" stroke="#000" stroke-width="0.3" fill="#000">Nonsense_Mutation</text>
</g></svg>
</body></html>
